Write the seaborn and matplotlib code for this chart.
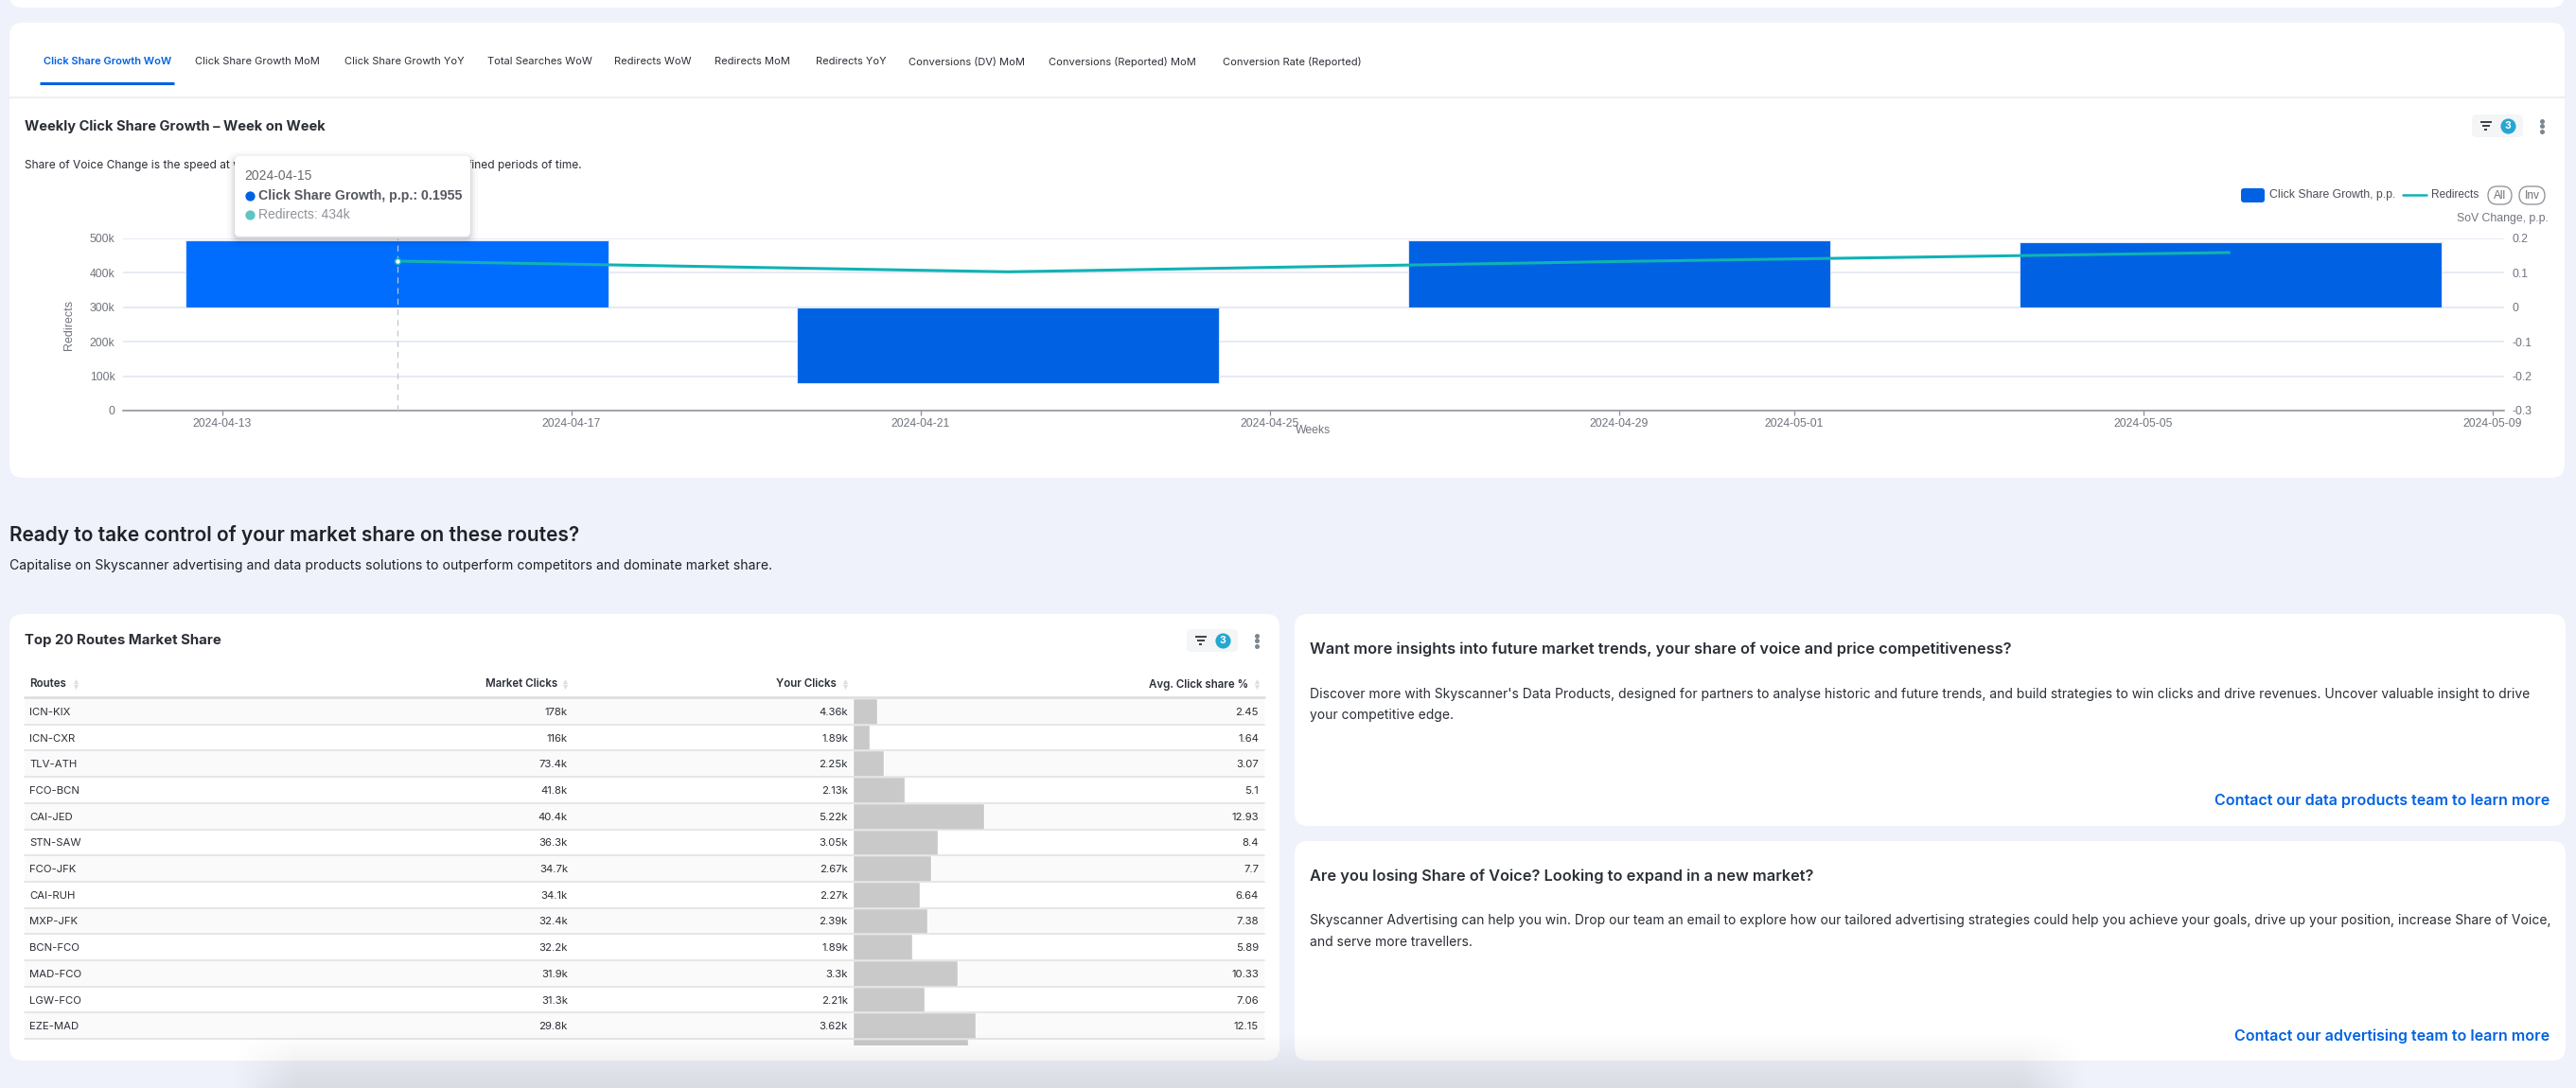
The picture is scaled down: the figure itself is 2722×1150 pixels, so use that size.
import matplotlib

matplotlib.use("Agg")

import matplotlib.dates as mdates
import matplotlib.pyplot as plt
import numpy as np
import pandas as pd
import seaborn as sns
from matplotlib.patches import FancyBboxPatch, Rectangle

W, H = 2722, 1150

tabs = [
    "Click Share Growth WoW", "Click Share Growth MoM", "Click Share Growth YoY",
    "Total Searches WoW", "Redirects WoW", "Redirects MoM", "Redirects YoY",
    "Conversions (DV) MoM", "Conversions (Reported) MoM", "Conversion Rate (Reported)",
]
tab_x = [46, 206, 364, 515, 649, 755, 862, 960, 1108, 1292]

weeks = ["2024-04-15", "2024-04-22", "2024-04-29", "2024-05-06"]
click_share_growth = [0.1955, -0.22, 0.195, 0.188]
redirects = [434000, 403000, 433000, 459000]
date_ticks = ["2024-04-13", "2024-04-17", "2024-04-21", "2024-04-25",
              "2024-04-29", "2024-05-01", "2024-05-05", "2024-05-09"]
redirect_ticks = [0, 100000, 200000, 300000, 400000, 500000]
redirect_labels = ["0", "100k", "200k", "300k", "400k", "500k"]
sov_ticks = [-0.3, -0.2, -0.1, 0, 0.1, 0.2]
sov_labels = ["-0.3", "-0.2", "-0.1", "0", "0.1", "0.2"]

routes = ["ICN-KIX", "ICN-CXR", "TLV-ATH", "FCO-BCN", "CAI-JED", "STN-SAW", "FCO-JFK",
          "CAI-RUH", "MXP-JFK", "BCN-FCO", "MAD-FCO", "LGW-FCO", "EZE-MAD"]
market_clicks = ["178k", "116k", "73.4k", "41.8k", "40.4k", "36.3k", "34.7k",
                 "34.1k", "32.4k", "32.2k", "31.9k", "31.3k", "29.8k"]
your_clicks = ["4.36k", "1.89k", "2.25k", "2.13k", "5.22k", "3.05k", "2.67k",
               "2.27k", "2.39k", "1.89k", "3.3k", "2.21k", "3.62k"]
click_share = [2.45, 1.64, 3.07, 5.1, 12.93, 8.4, 7.7, 6.64, 7.38, 5.89, 10.33, 7.06, 12.15]
# the 14th row is cut off by the card, only its bar shows
hidden_row_share = 11.39

BG = "#eff2fa"
BLUE = "#0062e3"
HOVER = "#006dff"
TEAL = "#10b2b4"
GRID = "#e7ebf6"
INK = "#2b2f36"
GREY = "#70747d"
LINK = "#0062e3"

sns.set_theme(style="white")
plt.rcParams["font.family"] = ["Inter", "DejaVu Sans"]

fig = plt.figure(figsize=(W / 100, H / 100), dpi=100, facecolor=BG)


def px_axes(left, top, right, bottom, z):
    return fig.add_axes([left / W, 1 - bottom / H, (right - left) / W, (bottom - top) / H], zorder=z)


def card(ax, x0, y0, x1, y1, color="white", r=14, **kw):
    ax.add_patch(FancyBboxPatch((x0, y0), x1 - x0, y1 - y0, boxstyle=f"round,pad=0,rounding_size={r}",
                                fc=color, ec="none", **kw))


def filter_widget(ax, x0, y0, x1, y1, icon_x, badge_x, dots_x):
    yc = (y0 + y1) / 2
    card(ax, x0, y0, x1, y1, color="#f4f5f6", r=5)
    for half, dy in ((6, -4), (4, 0), (1.5, 4)):
        ax.plot([icon_x - half, icon_x + half], [yc + dy, yc + dy], color="#3d4046", lw=1.4, solid_capstyle="butt")
    ax.scatter([badge_x], [yc], s=135, color="#25a7cf", linewidths=0)
    ax.text(badge_x, yc + 0.5, "3", color="white", fontsize=7.6, fontweight="bold", ha="center", va="center")
    ax.scatter([dots_x] * 3, [yc - 5.5, yc, yc + 5.5], s=13, color="#7d8790", linewidths=0)


# page layer: cards and all page text in pixel coordinates
page = px_axes(0, 0, W, H, 0)
page.set_xlim(0, W)
page.set_ylim(H, 0)
page.axis("off")

card(page, 10, -40, 2710, 8)
card(page, 10, 24, 2710, 505)
card(page, 10, 649, 1352, 1121)
card(page, 1368, 649, 2711, 873)
card(page, 1368, 889, 2711, 1121)

for i, (label, x) in enumerate(zip(tabs, tab_x)):
    page.text(x, 65.5, label, fontsize=8.0, ha="left", va="center",
              color=BLUE if i == 0 else INK, fontweight="semibold" if i == 0 else "normal")
page.plot([42, 184], [88, 88], color=BLUE, lw=2.2, solid_capstyle="butt")
page.plot([10, 2710], [103, 103], color="#edeff3", lw=1.4)

page.text(26, 133.5, "Weekly Click Share Growth – Week on Week", fontsize=10.6, fontweight="bold",
          color=INK, va="center")
page.text(26, 175, "Share of Voice Change is the speed at which your share has gained or lost over defined periods of time.",
          fontsize=8.6, color=INK, va="center")
filter_widget(page, 2612, 121, 2666, 145, 2627, 2650, 2686)

page.text(10, 565, "Ready to take control of your market share on these routes?", fontsize=15,
          fontweight="semibold", color="#1f2228", va="center")
page.text(10, 598, "Capitalise on Skyscanner advertising and data products solutions to outperform competitors and dominate market share.",
          fontsize=10.1, color="#1f2228", va="center")

page.text(26, 677.5, "Top 20 Routes Market Share", fontsize=10.8, fontweight="bold", color=INK, va="center")
filter_widget(page, 1254, 665, 1308, 689, 1269, 1292, 1328)

# table header
for label, x, ha, icon in (("Routes", 31, "left", 80), ("Market Clicks", 589, "right", 597),
                           ("Your Clicks", 884, "right", 893), ("Avg. Click share %", 1319, "right", 1328)):
    page.text(x, 723.5, label, fontsize=8.3, fontweight="semibold", color=INK, ha=ha, va="center")
    page.scatter([icon], [720], marker="^", s=14, color="#dcdee2", linewidths=0)
    page.scatter([icon], [726], marker="v", s=14, color="#dcdee2", linewidths=0)

row_h = 27.7
row_top = 738
for i in range(len(routes)):
    if i % 2 == 0:
        page.add_patch(Rectangle((26, row_top + i * row_h), 1310, row_h, fc="#fafafa", ec="none"))

page.text(1384, 686, "Want more insights into future market trends, your share of voice and price competitiveness?",
          fontsize=11.8, fontweight="semibold", color=INK, va="center")
page.text(1384, 734, "Discover more with Skyscanner's Data Products, designed for partners to analyse historic and future trends, and build strategies to win clicks and drive revenues. Uncover valuable insight to drive",
          fontsize=10, color=INK, va="center")
page.text(1384, 756, "your competitive edge.", fontsize=10, color=INK, va="center")
page.text(2694, 847, "Contact our data products team to learn more", fontsize=11.55, fontweight="semibold",
          color=LINK, ha="right", va="center")
page.text(1384, 926, "Are you losing Share of Voice? Looking to expand in a new market?", fontsize=11.8,
          fontweight="semibold", color=INK, va="center")
page.text(1384, 973, "Skyscanner Advertising can help you win. Drop our team an email to explore how our tailored advertising strategies could help you achieve your goals, drive up your position, increase Share of Voice,",
          fontsize=10, color=INK, va="center")
page.text(1384, 996, "and serve more travellers.", fontsize=10, color=INK, va="center")
page.text(2694, 1095, "Contact our advertising team to learn more", fontsize=11.55, fontweight="semibold",
          color=LINK, ha="right", va="center")

# combo chart: bars on the right scale, line on the left scale
week_nums = mdates.date2num(pd.to_datetime(weeks))
tick_nums = mdates.date2num(pd.to_datetime(date_ticks))
px_per_day = (2633.5 - 235) / (tick_nums[-1] - tick_nums[0])
x_left = tick_nums[0] - (235 - 130) / px_per_day
x_right = tick_nums[-1] + (2646 - 2633.5) / px_per_day

ax_bar = px_axes(130, 252, 2646, 434, 1)
ax_bar.patch.set_alpha(0)
growth = pd.DataFrame({"week": week_nums, "growth": click_share_growth})
sns.barplot(data=growth, x="week", y="growth", native_scale=True, width=0.691, color=BLUE,
            saturation=1, errorbar=None, ax=ax_bar, zorder=2)
ax_bar.patches[0].set_facecolor(HOVER)
for bar in ax_bar.patches:
    bar.set_edgecolor("#dbe6fb")
    bar.set_linewidth(0.8)
ax_bar.set_xlim(x_left, x_right)
ax_bar.set_ylim(-0.3, 0.2)
ax_bar.set_xlabel("")
ax_bar.set_ylabel("")
ax_bar.yaxis.tick_right()
ax_bar.set_yticks(sov_ticks, sov_labels, fontsize=8.8, color=GREY, family="Liberation Sans")
ax_bar.tick_params(axis="y", length=0, pad=6)
ax_bar.set_xticks(tick_nums, date_ticks, fontsize=8.8, color=GREY, family="Liberation Sans")
ax_bar.tick_params(axis="x", bottom=True, length=3.6, width=0.9, color="#8a8d96", pad=2.2)
ax_bar.set_axisbelow(True)
ax_bar.grid(axis="y", color=GRID, lw=1.5)
ax_bar.grid(axis="x", visible=False)
for spine in ax_bar.spines.values():
    spine.set_visible(False)
ax_bar.spines["bottom"].set_visible(True)
ax_bar.spines["bottom"].set_color("#8a8d96")
ax_bar.spines["bottom"].set_linewidth(1.1)

ax_line = px_axes(130, 252, 2646, 434, 2)
ax_line.patch.set_alpha(0)
traffic = pd.DataFrame({"week": week_nums, "redirects": redirects})
sns.lineplot(data=traffic, x="week", y="redirects", color=TEAL, lw=2.2, errorbar=None, ax=ax_line,
             solid_capstyle="butt")
ax_line.axvline(week_nums[0], color="#c3c6cc", lw=0.9, ls=(0, (5, 4)), zorder=1)
ax_line.scatter(week_nums[:1], redirects[:1], s=20, color="white", edgecolors=TEAL, linewidths=1.2, zorder=4)
ax_line.set_xlim(x_left, x_right)
ax_line.set_ylim(0, 500000)
ax_line.set_xticks([])
ax_line.set_yticks(redirect_ticks, redirect_labels, fontsize=8.8, color=GREY, family="Liberation Sans")
ax_line.tick_params(axis="y", length=0, pad=6)
ax_line.set_xlabel("")
ax_line.set_ylabel("")
for spine in ax_line.spines.values():
    spine.set_visible(False)

# click share bars inside the table
ax_share = px_axes(901, row_top, 1336, 1105, 1)
ax_share.patch.set_alpha(0)
share = pd.DataFrame({"route": routes + ["-"], "share": click_share + [hidden_row_share]})
sns.barplot(data=share, y="route", x="share", orient="h", width=1, color="#c9c9c9", saturation=1,
            errorbar=None, ax=ax_share)
ax_share.set_xlim(0, (1336 - 901) / 10.74)
ax_share.set_ylim((1105 - row_top) / row_h - 0.5, -0.5)
ax_share.axis("off")

# overlay: table text, legend, tooltip, all above the axes
top = px_axes(0, 0, W, H, 5)
top.patch.set_alpha(0)
top.set_xlim(0, W)
top.set_ylim(H, 0)
top.axis("off")

top.plot([26, 1336], [737, 737], color="#dfdfdf", lw=2)
for i in range(len(routes)):
    y = row_top + (i + 1) * row_h
    top.plot([26, 1336], [y, y], color="#e2e2e2", lw=1.2)
    yc = y - row_h / 2 + 1
    top.text(31, yc, routes[i], fontsize=8.2, color=INK, va="center")
    top.text(600, yc, market_clicks[i], fontsize=8.2, color=INK, ha="right", va="center")
    top.text(896, yc, your_clicks[i], fontsize=8.2, color=INK, ha="right", va="center")
    top.text(1330, yc, f"{click_share[i]:g}", fontsize=8.2, color=INK, ha="right", va="center")

# chart legend and axis titles
lab = "Liberation Sans"
card(top, 2368, 199, 2393, 214, color=BLUE, r=3)
top.text(2398, 206, "Click Share Growth, p.p.", fontsize=8.8, color="#4a4d55", family=lab, va="center")
top.plot([2539, 2564], [206, 206], color=TEAL, lw=1.8)
top.text(2569, 206, "Redirects", fontsize=8.6, color="#4a4d55", family=lab, va="center")
for x0, x1, label in ((2629, 2654, "All"), (2662, 2689, "Inv")):
    top.add_patch(FancyBboxPatch((x0, 197), x1 - x0, 19, boxstyle="round,pad=0,rounding_size=9.5",
                                 fc="white", ec="#8b8d92", lw=0.9))
    top.text((x0 + x1) / 2, 206.5, label, fontsize=8.6, color="#6d7077", family=lab, ha="center", va="center")
top.text(2693, 231, "SoV Change, p.p.", fontsize=8.85, color=GREY, family=lab, ha="right", va="center")
top.text(73, 343, "Redirects", fontsize=9, color=GREY, family=lab, rotation=90, ha="center", va="center")
top.text(1388, 455, "Weeks", fontsize=8.8, color=GREY, family=lab, ha="center", va="center")

# tooltip
for grow, alpha in ((8, 0.02), (5, 0.03), (3, 0.04), (1, 0.06)):
    card(top, 248 - grow, 165 - grow + 3, 497 + grow, 250 + grow + 3, color="black", r=6 + grow, alpha=alpha)
card(top, 248, 165, 497, 250, r=5)
top.text(258, 186, "2024-04-15", fontsize=10, color="#666a70", family=lab, va="center")
top.scatter([264], [207], s=55, color=BLUE, linewidths=0)
top.text(273, 207, "Click Share Growth, p.p.: 0.1955", fontsize=10.2, color="#555860", family=lab,
         fontweight="bold", va="center")
top.scatter([264], [227], s=55, color="#5fc4c6", linewidths=0)
top.text(273, 227, "Redirects: 434k", fontsize=10, color="#8f9298", family=lab, va="center")

# soft grey shadow along the bottom edge of the screenshot
xx, yy = np.meshgrid(np.arange(W), np.arange(1080, H))
fade_x = np.clip((xx - 243) / 70, 0, 1) * np.clip((2205 - xx) / 70, 0, 1)
shade = np.zeros(xx.shape + (4,))
shade[..., 3] = 0.0016 * np.clip(yy - 1090, 0, None) * fade_x
top.imshow(shade, extent=(0, W, H, 1080), aspect="auto", zorder=10, interpolation="bilinear")
top.set_xlim(0, W)
top.set_ylim(H, 0)

fig.savefig("out.png", dpi=100, facecolor=BG)
